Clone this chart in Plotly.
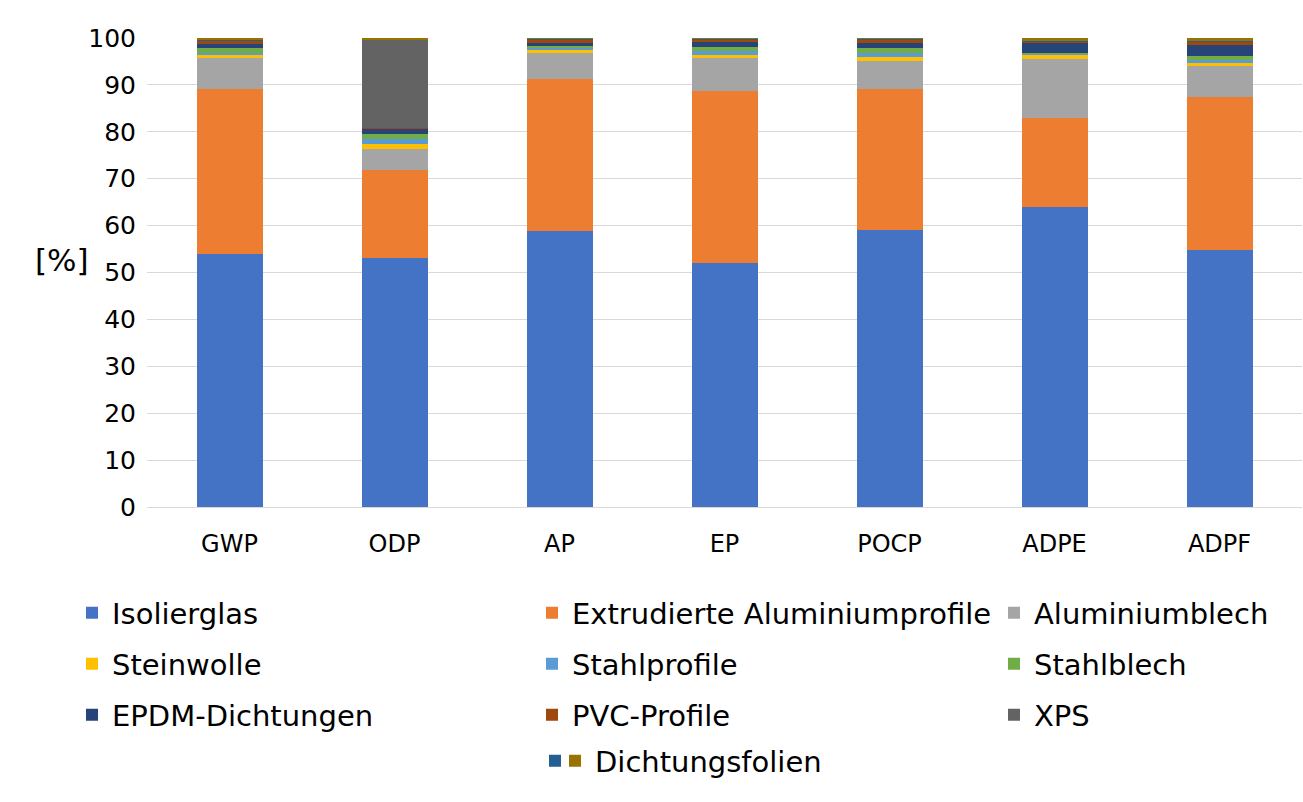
import plotly.graph_objects as go

# Impact categories on the x axis
categories = ["GWP", "ODP", "AP", "EP", "POCP", "ADPE", "ADPF"]

# Share of each component per impact category [%]
isolierglas = [54.0, 53.1, 58.8, 52.0, 59.1, 64.0, 54.8]
alu_profile = [35.1, 18.8, 32.5, 36.6, 30.0, 18.9, 32.7]
alublech = [6.6, 4.4, 5.6, 7.1, 6.1, 12.6, 6.6]
steinwolle = [0.6, 1.1, 0.6, 0.6, 0.8, 0.9, 0.6]
stahlprofile = [0.6, 1.1, 0.4, 1.0, 0.9, 0.2, 0.7]
stahlblech = [0.9, 1.1, 0.4, 0.8, 1.0, 0.2, 0.8]
epdm = [0.9, 1.0, 0.6, 1.0, 1.1, 2.3, 2.3]
pvc = [0.7, 0.2, 0.7, 0.5, 0.6, 0.2, 0.7]
xps = [0.1, 18.8, 0.1, 0.1, 0.1, 0.0, 0.1]
unnamed = [0.1, 0.1, 0.1, 0.1, 0.1, 0.1, 0.1]
dichtungsfolien = [0.4, 0.3, 0.2, 0.2, 0.2, 0.6, 0.6]

series_names = ["Isolierglas", "Extrudierte Aluminiumprofile", "Aluminiumblech",
                "Steinwolle", "Stahlprofile", "Stahlblech",
                "EPDM-Dichtungen", "PVC-Profile", "XPS",
                " ", "Dichtungsfolien"]
series_values = [isolierglas, alu_profile, alublech, steinwolle, stahlprofile,
                 stahlblech, epdm, pvc, xps, unnamed, dichtungsfolien]
series_colors = ["#4472C4", "#ED7D31", "#A5A5A5", "#FFC000", "#5B9BD5",
                 "#70AD47", "#264478", "#9E480E", "#636363", "#255E91", "#997300"]

FONT = "DejaVu Sans"
W, H = 1303, 802

# legend grid: each entry gets its own box (left edge, vertical centre in px)
col_x = [72, 532, 994]
row_y = [613, 664, 715]
legend_pos = [(col_x[i % 3], row_y[i // 3]) for i in range(9)]
legend_pos += [(535, 761), (555, 761)]

legend_font = dict(family=FONT, size=29, color="#000000")


def cell_legend(x_px, y_px):
    return dict(
        orientation="h", xref="container", yref="container",
        x=x_px / W, y=1 - y_px / H, xanchor="left", yanchor="middle",
        font=legend_font, bgcolor="rgba(0,0,0,0)", borderwidth=0,
        traceorder="normal",
    )


fig = go.Figure()
legends = {}
for i, (name, vals, col) in enumerate(zip(series_names, series_values, series_colors)):
    key = "legend" if i == 0 else f"legend{i + 1}"
    legends[key] = cell_legend(*legend_pos[i])
    fig.add_trace(go.Bar(
        x=categories, y=vals, name=name, legend=key,
        marker=dict(color=col, line=dict(width=0)),
    ))

fig.update_layout(
    width=W, height=H, autosize=False, showlegend=True,
    barmode="stack", bargap=0.6,
    plot_bgcolor="white", paper_bgcolor="white",
    margin=dict(l=147, r=1, t=38, b=295),
    font=dict(family=FONT, size=24, color="#000000"),
    xaxis=dict(
        type="category", showgrid=False, showline=False, zeroline=False,
        tickfont=dict(family=FONT, size=24, color="#000000"),
        ticks="", ticklabelstandoff=20,
    ),
    yaxis=dict(
        range=[0, 100], dtick=10, showgrid=True, gridcolor="#D9D9D9", gridwidth=1,
        zeroline=True, zerolinecolor="#D9D9D9", zerolinewidth=1, showline=False,
        tickfont=dict(family=FONT, size=25, color="#000000"),
        ticks="", ticklabelstandoff=10,
    ),
    annotations=[dict(
        text="[%]", xref="paper", yref="paper", x=-0.0736, y=0.527,
        xanchor="center", yanchor="middle", showarrow=False,
        font=dict(family=FONT, size=31, color="#000000"),
    )],
    **legends,
)

fig.write_html("out.html")
